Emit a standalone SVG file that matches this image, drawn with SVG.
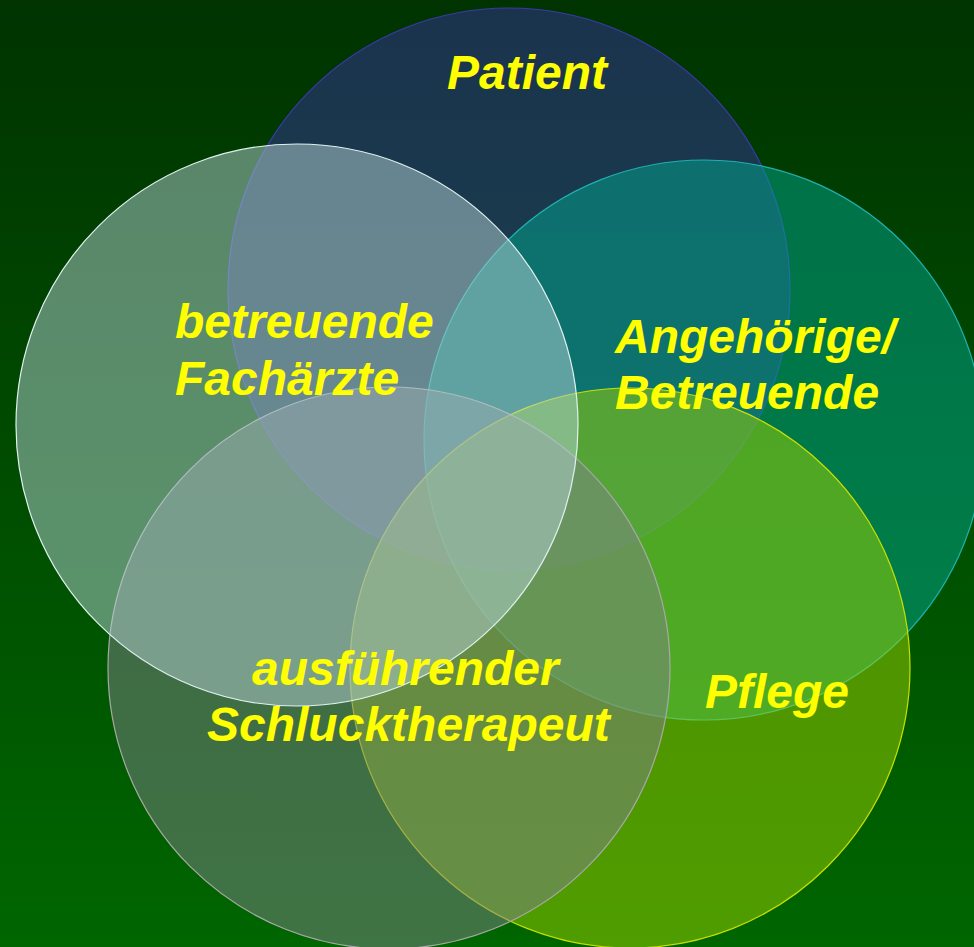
<svg xmlns="http://www.w3.org/2000/svg" width="974" height="947" viewBox="0 0 974 947">
<defs>
<linearGradient id="bg" x1="0" y1="0" x2="0" y2="1">
<stop offset="0" stop-color="#003300"/>
<stop offset="1" stop-color="#006600"/>
</linearGradient>
</defs>
<style>
.c{stroke-width:1.2}
.t{font-family:"Liberation Sans",Arial,sans-serif;font-weight:bold;font-style:italic;font-size:48px;fill:#ffff00}
</style>
<rect width="974" height="947" fill="url(#bg)"/>
<g id="patient">
<circle class="c" cx="509" cy="289" r="281" fill="#333399" fill-opacity="0.5" stroke="#3a3aaa"/>
</g>
<g id="angehoerige">
<circle class="c" cx="704" cy="440" r="280" fill="#00a890" fill-opacity="0.5" stroke="#20b0b0"/>
</g>
<g id="pflege">
<circle class="c" cx="630" cy="668" r="280" fill="#9ed300" fill-opacity="0.5" stroke="#c8e000"/>
</g>
<g id="ausfuehrender">
<circle class="c" cx="389" cy="668" r="281" fill="#7e8288" fill-opacity="0.5" stroke="#a8a8a8"/>
</g>
<g id="fachaerzte">
<circle class="c" cx="297" cy="425" r="281" fill="#b4d2d4" fill-opacity="0.5" stroke="#e0f0f0"/>
</g>
<g id="connectors"></g>
<g id="labels">
<text class="t" x="447" y="89">Patient</text>
<text class="t" x="615" y="353">Angehörige/</text>
<text class="t" x="615" y="409">Betreuende</text>
<text class="t" x="175" y="338">betreuende</text>
<text class="t" x="175" y="395">Fachärzte</text>
<text class="t" x="252" y="685">ausführender</text>
<text class="t" x="207" y="741">Schlucktherapeut</text>
<text class="t" x="705" y="708">Pflege</text>
</g>
</svg>
